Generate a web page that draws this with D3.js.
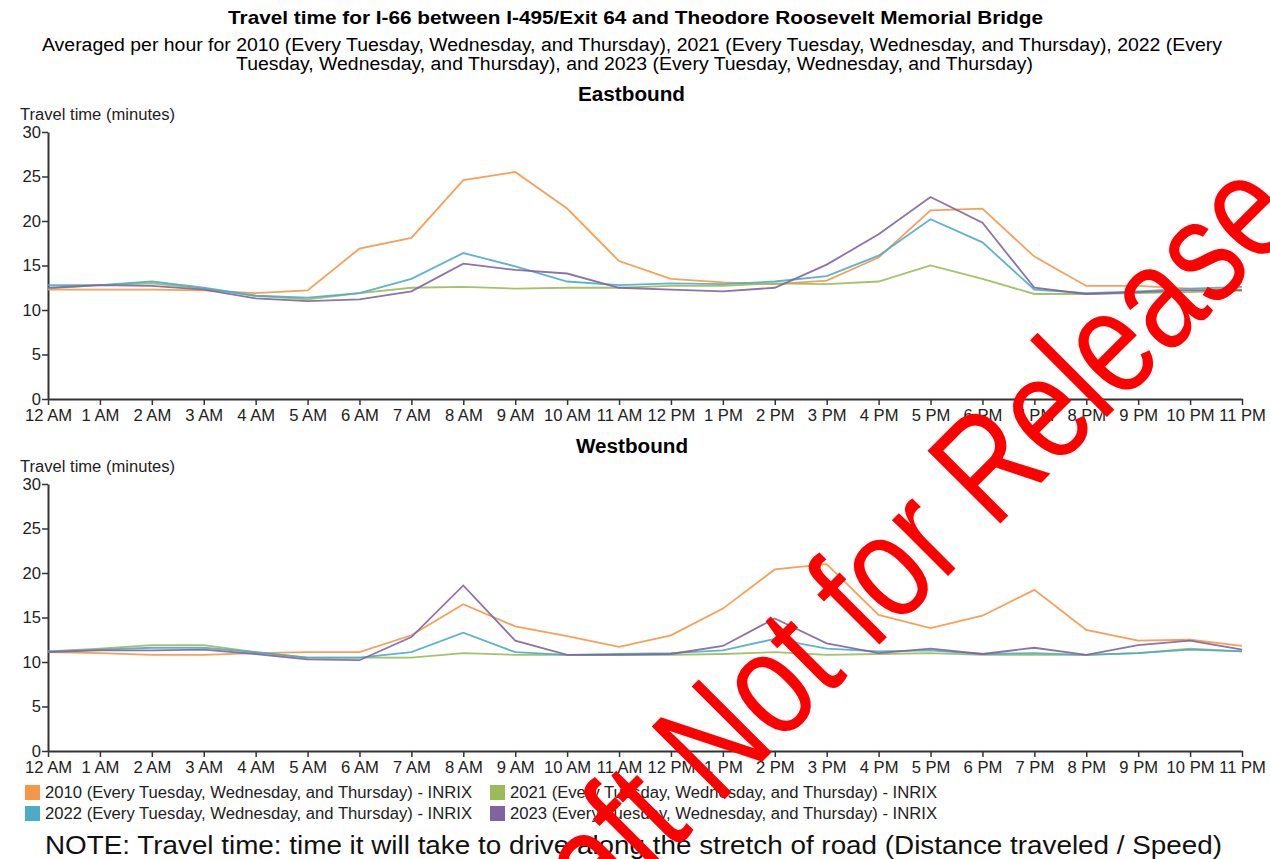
<!DOCTYPE html>
<html>
<head>
<meta charset="utf-8">
<script src="https://cdn.jsdelivr.net/npm/d3@7"></script>
<style>
  body { margin: 0; background: #fff; font-family: Arial, "Liberation Sans", sans-serif; }
  svg { display: block; }
</style>
</head>
<body>
<svg id="chart" width="1270" height="859"></svg>
<script>
// hour labels on the x axis
const hours = ['12 AM', '1 AM', '2 AM', '3 AM', '4 AM', '5 AM', '6 AM', '7 AM', '8 AM', '9 AM', '10 AM', '11 AM',
  '12 PM', '1 PM', '2 PM', '3 PM', '4 PM', '5 PM', '6 PM', '7 PM', '8 PM', '9 PM', '10 PM', '11 PM']
const yTicks = [0, 5, 10, 15, 20, 25, 30]

const seriesNames = [
  '2010 (Every Tuesday, Wednesday, and Thursday) - INRIX',
  '2021 (Every Tuesday, Wednesday, and Thursday) - INRIX',
  '2022 (Every Tuesday, Wednesday, and Thursday) - INRIX',
  '2023 (Every Tuesday, Wednesday, and Thursday) - INRIX'
]
const seriesColors = ['#f79646', '#9bbb59', '#4bacc6', '#8064a2']

// Eastbound travel times (minutes)
const east2010 = [12.3, 12.3, 12.3, 12.2, 11.9, 12.2, 16.9, 18.1, 24.6, 25.5, 21.4, 15.5, 13.5, 13.1, 12.9, 13.3, 15.9, 21.2, 21.4, 16.0, 12.7, 12.7, 12.4, 12.3]
const east2021 = [12.4, 12.8, 13.0, 12.4, 11.6, 11.2, 11.9, 12.5, 12.6, 12.4, 12.5, 12.5, 12.7, 12.7, 13.0, 12.9, 13.2, 15.0, 13.5, 11.8, 11.8, 11.9, 12.0, 12.2]
const east2022 = [12.8, 12.8, 13.2, 12.5, 11.6, 11.4, 11.9, 13.5, 16.4, 14.9, 13.2, 12.8, 13.0, 12.9, 13.2, 13.8, 16.1, 20.2, 17.6, 12.3, 11.9, 12.1, 12.4, 12.6]
const east2023 = [12.5, 12.8, 12.7, 12.3, 11.3, 11.0, 11.2, 12.1, 15.2, 14.5, 14.1, 12.5, 12.3, 12.1, 12.5, 15.1, 18.5, 22.7, 19.8, 12.5, 11.8, 12.0, 12.2, 12.2]

// Westbound travel times (minutes)
const west2010 = [11.1, 11.0, 10.8, 10.8, 11.0, 11.1, 11.1, 13.0, 16.5, 14.0, 12.9, 11.7, 13.0, 16.0, 20.4, 21.0, 15.3, 13.8, 15.2, 18.1, 13.6, 12.4, 12.5, 11.8]
const west2021 = [11.2, 11.5, 11.9, 11.9, 11.1, 10.5, 10.5, 10.5, 11.0, 10.8, 10.8, 10.8, 10.8, 10.9, 11.1, 10.8, 10.9, 11.0, 10.8, 10.8, 10.8, 11.0, 11.5, 11.2]
const west2022 = [11.2, 11.4, 11.6, 11.6, 11.1, 10.5, 10.5, 11.1, 13.3, 11.1, 10.8, 10.9, 11.0, 11.3, 12.6, 11.5, 11.2, 11.3, 10.9, 11.0, 10.8, 11.0, 11.4, 11.2]
const west2023 = [11.1, 11.3, 11.3, 11.4, 10.9, 10.3, 10.2, 12.8, 18.6, 12.4, 10.8, 10.8, 10.9, 11.8, 14.9, 12.1, 11.0, 11.5, 10.9, 11.6, 10.8, 11.9, 12.4, 11.4]

const svg = d3.select('#chart')

// stretched text helper: the reference font runs wider than Arial
function wideText (sel, x, y, len, size, str) {
  return sel.append('text')
    .attr('x', x).attr('y', y)
    .attr('textLength', len)
    .attr('lengthAdjust', 'spacingAndGlyphs')
    .style('font-size', size + 'px')
    .text(str)
}

wideText(svg, 228, 24, 815, 19, 'Travel time for I-66 between I-495/Exit 64 and Theodore Roosevelt Memorial Bridge')
  .style('font-weight', 'bold')

wideText(svg, 42, 51, 1180, 18,
  'Averaged per hour for 2010 (Every Tuesday, Wednesday, and Thursday), 2021 (Every Tuesday, Wednesday, and Thursday), 2022 (Every')
wideText(svg, 236, 70, 797, 18,
  'Tuesday, Wednesday, and Thursday), and 2023 (Every Tuesday, Wednesday, and Thursday)')

const x = d3.scalePoint().domain(hours).range([48, 1242])

function drawPanel (title, top, titleX, titleLen, data) {
  const y = d3.scaleLinear().domain([0, 30]).range([top + 267, top])
  const g = svg.append('g')

  wideText(g, titleX, top - 31, titleLen, 20, title)
    .style('font-weight', 'bold')

  wideText(g, 20, top - 12, 155, 16, 'Travel time (minutes)')
    .style('fill', '#222')

  const yAxis = g.append('g')
    .attr('transform', 'translate(48,0)')
    .call(d3.axisLeft(y).tickValues(yTicks).tickSize(6).tickSizeOuter(0))
  const xAxis = g.append('g')
    .attr('transform', `translate(0,${top + 267})`)
    .call(d3.axisBottom(x).tickSize(6).tickSizeOuter(0).tickPadding(4))

  for (const ax of [yAxis, xAxis]) {
    ax.select('.domain').attr('stroke', '#333').attr('stroke-width', 2)
    ax.selectAll('.tick line').attr('stroke', '#333').attr('stroke-width', 1.5)
    ax.selectAll('.tick text').style('font-size', '16.6px').style('fill', '#222')
      .style('font-family', 'Arial, "Liberation Sans", sans-serif')
  }
  yAxis.selectAll('.tick text').attr('x', -7)

  const line = d3.line()
    .x((d, i) => x(hours[i]))
    .y(d => y(d))

  data.forEach((vals, k) => {
    g.append('path')
      .datum(vals)
      .attr('fill', 'none')
      .attr('stroke', seriesColors[k])
      .attr('stroke-opacity', 0.9)
      .attr('stroke-width', 1.8)
      .attr('d', line)
  })
}

drawPanel('Eastbound', 132, 578, 107, [east2010, east2021, east2022, east2023])
drawPanel('Westbound', 484, 576, 112, [west2010, west2021, west2022, west2023])

// legend, two columns
const legend = svg.append('g')
seriesNames.forEach((name, i) => {
  const lx = i % 2 === 0 ? 25 : 490
  const ly = 785 + Math.floor(i / 2) * 21
  legend.append('rect')
    .attr('x', lx).attr('y', ly).attr('width', 15).attr('height', 15)
    .attr('fill', seriesColors[i])
  wideText(legend, lx + 20, ly + 13, 427, 16, name)
    .style('fill', '#222')
})

wideText(svg, 45, 854, 1177, 26,
  'NOTE: Travel time: time it will take to drive along the stretch of road (Distance traveled / Speed)')
  .style('fill', '#111')

// draft watermark, slightly stretched along its height
svg.append('text')
  .attr('transform', 'translate(512,1012) rotate(-45) scale(1,1.26)')
  .style('font-size', '119px')
  .style('fill', '#ff0000')
  .text('Draft Not for Release')
</script>
</body>
</html>
